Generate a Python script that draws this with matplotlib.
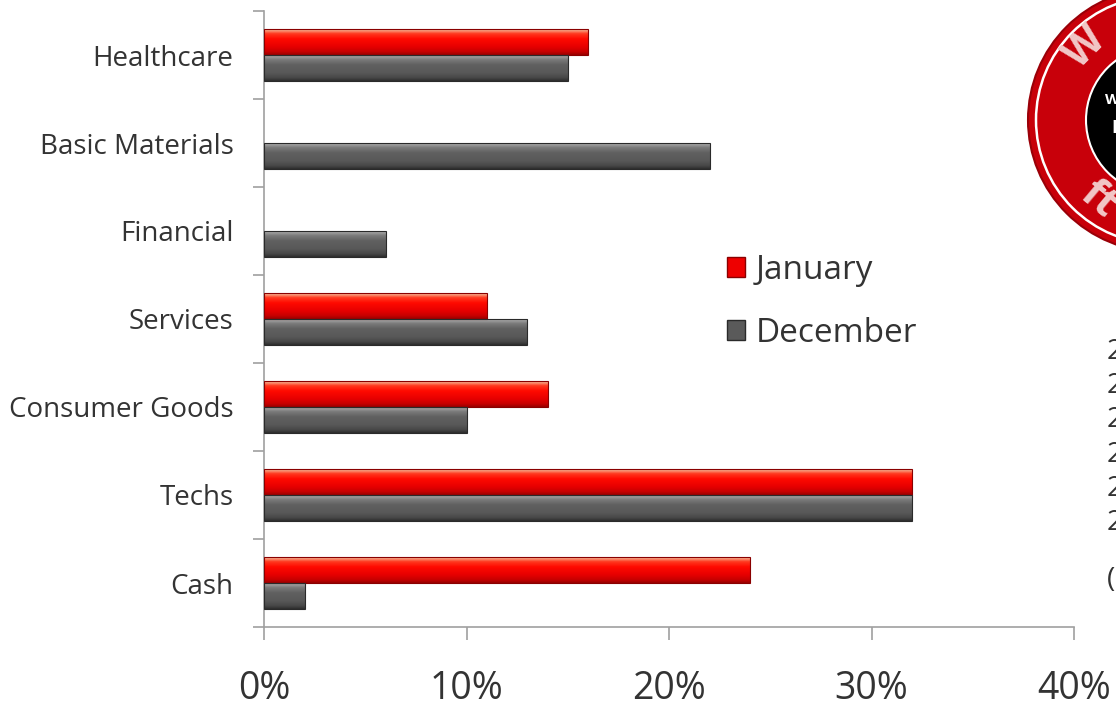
import matplotlib

matplotlib.use("Agg")
import matplotlib.pyplot as plt
import numpy as np
from matplotlib.colors import LinearSegmentedColormap
from matplotlib.patches import Circle, Rectangle

categories = ["Healthcare", "Basic Materials", "Financial", "Services",
              "Consumer Goods", "Techs", "Cash"]
january = [16, 0, 0, 11, 14, 32, 24]
december = [15, 22, 6, 13, 10, 32, 2]
series_names = ["January", "December"]
x_ticks = [0, 10, 20, 30, 40]

plt.rcParams["font.family"] = ["Open Sans", "DejaVu Sans"]

W, H = 1116, 721
fig = plt.figure(figsize=(W / 100, H / 100), dpi=100)
ax = fig.add_axes([264 / W, 1 - 627 / H, (1074 - 264) / W, (627 - 11) / H])

n = len(categories)
pos = list(range(n))[::-1]
bh = 0.3

# gradient stops from bottom (0) to top (1) of each bar
cmaps = {
    "January": LinearSegmentedColormap.from_list("jan", [
        (0.0, "#9a0000"), (0.12, "#c80000"), (0.3, "#e60000"), (0.6, "#ff0a00"),
        (0.8, "#ff3a20"), (0.92, "#f8a080"), (1.0, "#fcc8a8")]),
    "December": LinearSegmentedColormap.from_list("dec", [
        (0.0, "#2e2e2e"), (0.12, "#484848"), (0.3, "#585858"), (0.6, "#606060"),
        (0.8, "#7a7a7a"), (0.92, "#a0a0a0"), (1.0, "#b4b4b4")]),
}
edges = {"January": "#8a0000", "December": "#2a2a2a"}
grad = np.linspace(0, 1, 64).reshape(-1, 1)


def bevel_bars(y, vals, name):
    bars = ax.barh(y, vals, height=bh, color="none",
                   edgecolor=[edges[name] if v > 0 else "none" for v in vals],
                   linewidth=0.8, zorder=3)
    for rect, v in zip(bars, vals):
        if v <= 0:
            continue
        x0, y0 = rect.get_x(), rect.get_y()
        im = ax.imshow(grad, extent=[x0, x0 + rect.get_width(), y0, y0 + rect.get_height()],
                       origin="lower", aspect="auto", cmap=cmaps[name], zorder=2,
                       interpolation="bilinear")
        im.set_clip_path(rect)


y_jan = [p + bh / 2 for p in pos]
y_dec = [p - bh / 2 for p in pos]
bevel_bars(y_jan, january, "January")
bevel_bars(y_dec, december, "December")

ax.set_xlim(x_ticks[0], x_ticks[-1])
ax.set_ylim(-0.5, n - 0.5)
ax.set_xticks(x_ticks)
ax.set_xticklabels([f"{t}%" for t in x_ticks], fontsize=27, color="#333333")
ax.set_yticks(pos)
ax.set_yticklabels(categories, fontsize=20, color="#333333")
ax.set_yticks([p + 0.5 for p in range(-1, n)], minor=True)
ax.tick_params(axis="y", which="major", length=0, pad=22)
ax.tick_params(axis="y", which="minor", length=8, color="#a0a0a0", width=1.2)
ax.tick_params(axis="x", length=9, color="#a0a0a0", width=1.2, pad=22)
for s in ["top", "right"]:
    ax.spines[s].set_visible(False)
for s in ["left", "bottom"]:
    ax.spines[s].set_color("#a0a0a0")
    ax.spines[s].set_linewidth(1.2)

handles = [
    Rectangle((0, 0), 1, 1, facecolor="#ee0000", edgecolor=edges["January"]),
    Rectangle((0, 0), 1, 1, facecolor="#5a5a5a", edgecolor=edges["December"]),
]
ax.legend(handles, series_names, loc="upper left", bbox_to_anchor=((697 - 264) / 810, (627 - 224) / 616),
          frameon=False, fontsize=24, handlelength=0.55, handleheight=0.55, handletextpad=0.3,
          labelspacing=0.9, labelcolor="#333333")

# partial logo at top right, cut by the figure edge
fig.patches.append(Circle((1160, H - 120), 132, transform=None, facecolor="#c8000a", edgecolor="#9a0008", lw=1.5))
fig.patches.append(Circle((1160, H - 120), 124, transform=None, facecolor="none", edgecolor="white", lw=1.8))
fig.patches.append(Circle((1160, H - 120), 74, transform=None, facecolor="black", edgecolor="white", lw=1.5))
fig.text(1086 / W, 1 - 48 / H, "W", fontsize=30, fontweight="bold", color="#f2c8c8", rotation=45,
         ha="center", va="center")
fig.text(1098 / W, 1 - 200 / H, "ft", fontsize=30, fontweight="bold", color="#f2c8c8", rotation=-40,
         ha="center", va="center")
fig.text(1112 / W, 1 - 100 / H, "W", fontsize=11, fontweight="bold", color="white", ha="center", va="center")
fig.text(1114 / W, 1 - 128 / H, "I", fontsize=13, fontweight="bold", color="white", ha="center", va="center")

# cut-off text column at the right edge
for yy in [352, 386, 420, 455, 489, 523]:
    fig.text(1107 / W, 1 - yy / H, "2", fontsize=20, color="#333333", va="center")
fig.text(1107 / W, 1 - 580 / H, "(", fontsize=20, color="#333333", va="center")

fig.savefig("out.png", dpi=100)
